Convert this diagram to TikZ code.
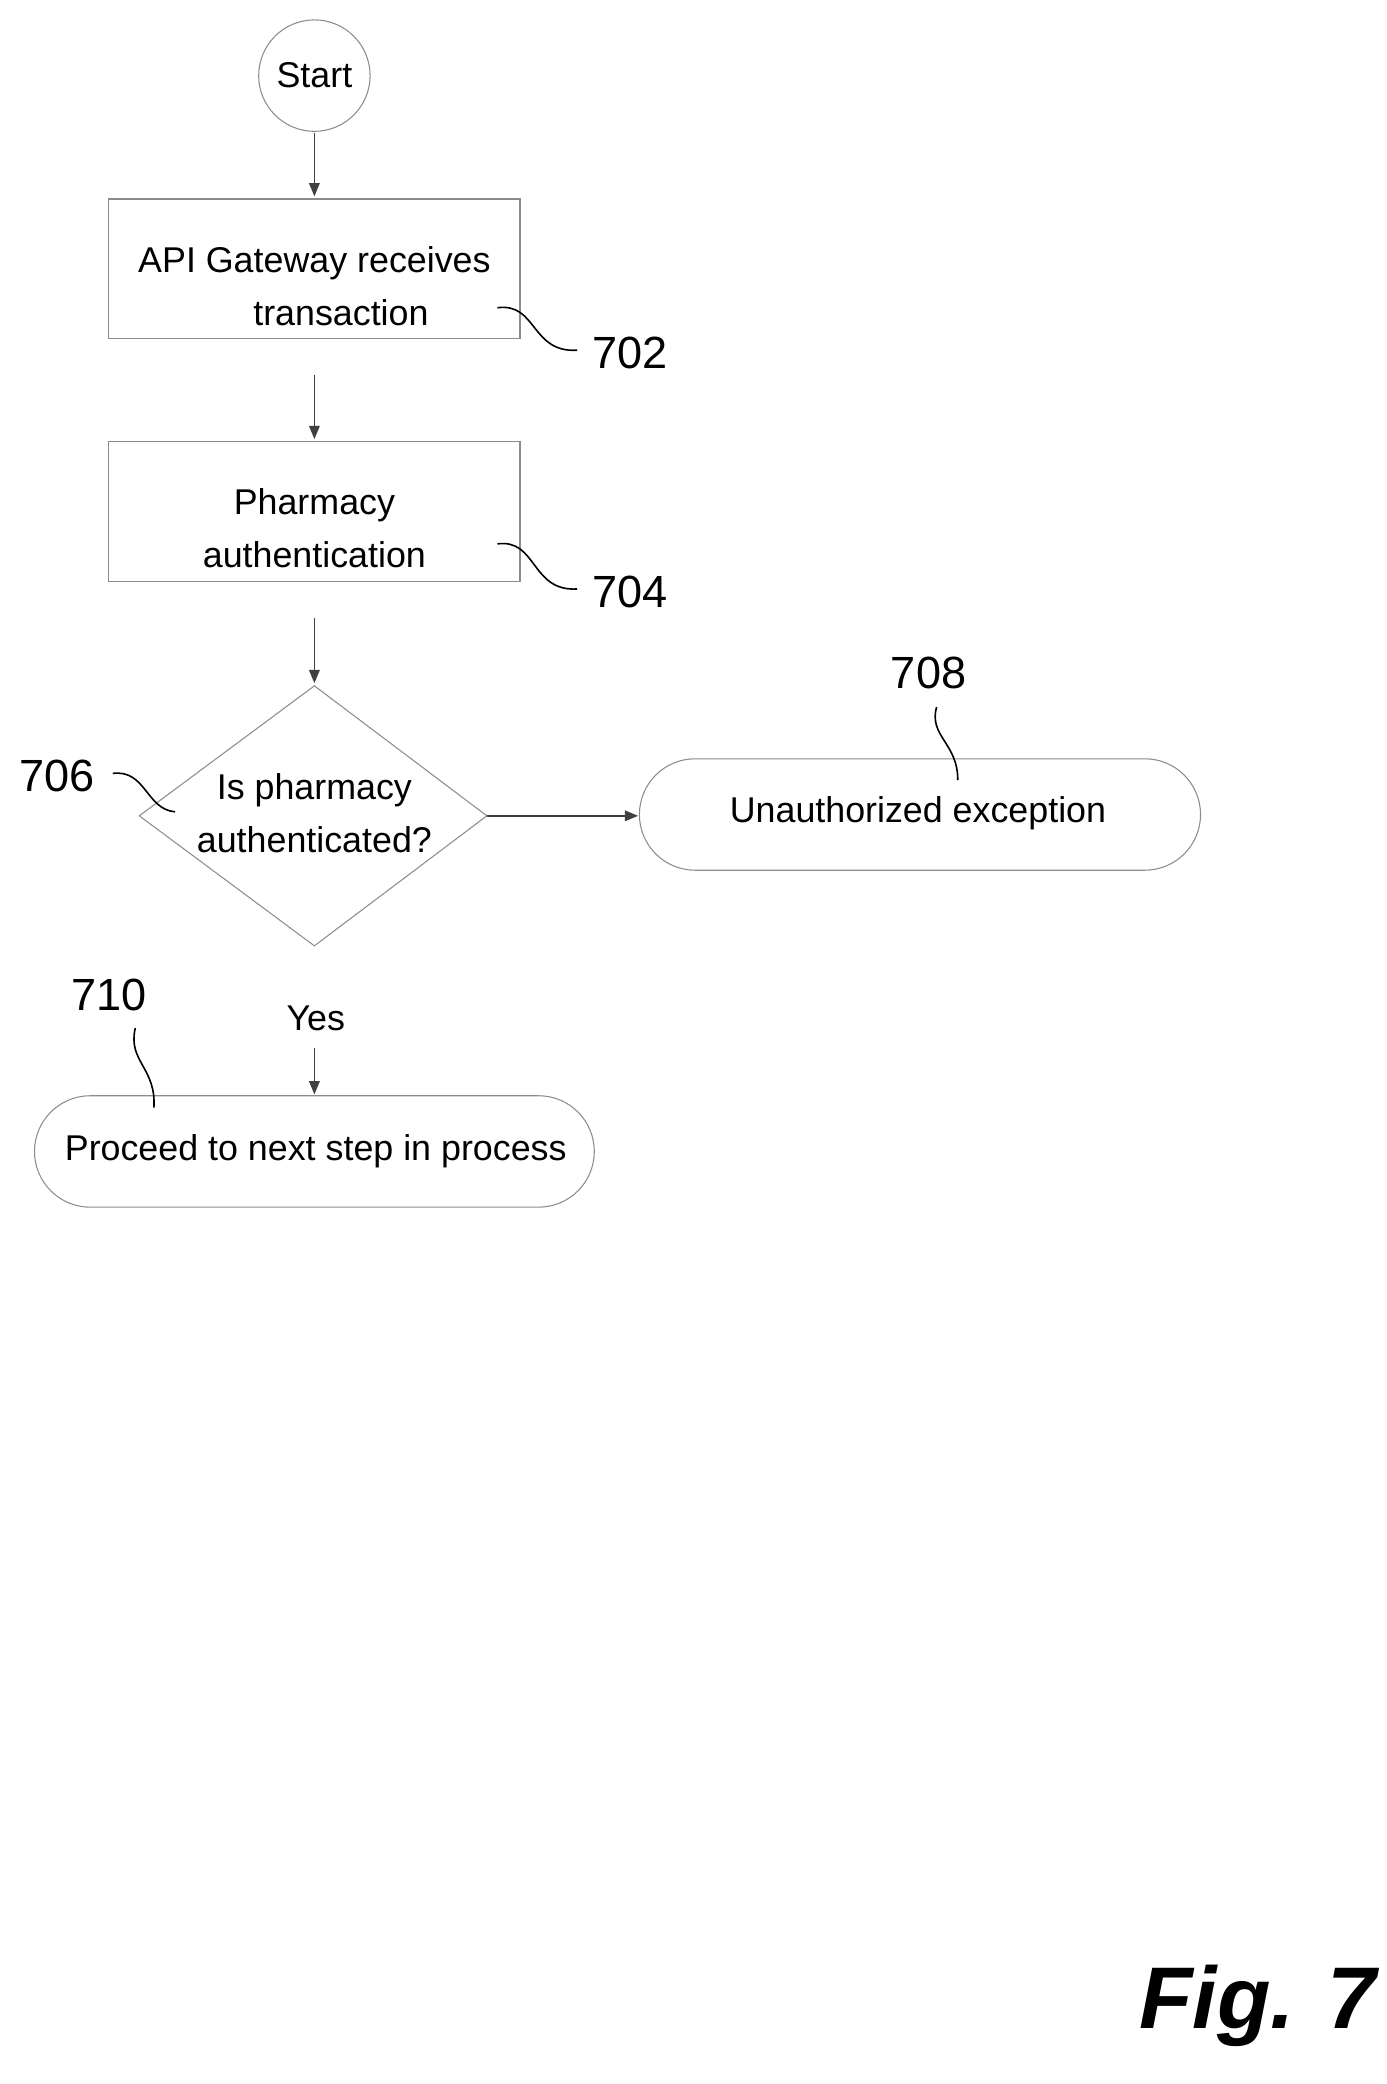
\documentclass[tikz,border=0pt]{standalone}
\usepackage{fontspec}
\setmainfont{Liberation Sans}
\usetikzlibrary{shapes.geometric,arrows.meta}
\begin{document}
\begin{tikzpicture}[x=1pt,y=-1pt,
  box/.style={draw=black!45,line width=0.8pt},
  txt/.style={font=\fontsize{27}{40}\selectfont,align=center,inner sep=0},
  num/.style={font=\fontsize{34}{40}\selectfont,inner sep=0},
  arr/.style={draw=black!75,line width=1.2pt,-{Triangle[length=10pt,width=8pt]}},
  sq/.style={draw=black,line width=1.2pt}]
\useasboundingbox (0,0) rectangle (1045,1571);
\node[box,circle,minimum size=84pt,inner sep=0] (start) at (237,57) {};
\node[txt] (starttxt) at (237,57) {Start};
\draw[box] (82,150) rectangle (392,255);
\node[txt] (b1) at (237,216) {API Gateway receives\\\hspace*{40pt}transaction};
\draw[box] (82,333) rectangle (392,438);
\node[txt] (b2) at (237,398) {Pharmacy\\authentication};
\draw[box] (237,517) -- (367,615) -- (237,713) -- (105,615) -- cycle;
\node[txt] (d) at (237,613) {Is pharmacy\\authenticated?};
\draw[box,rounded corners=42pt] (482,572) rectangle (905,656);
\node[txt] (u) at (692,613) {Unauthorized exception};
\draw[box,rounded corners=42pt] (26,826) rectangle (448,910);
\node[txt] (p) at (238,868) {Proceed to next step in process};
\coordinate (a1) at (237,100); \coordinate (a2) at (237,148);
\coordinate (a3) at (237,283); \coordinate (a4) at (237,331);
\coordinate (a5) at (237,466); \coordinate (a6) at (237,515);
\coordinate (a7) at (367,615); \coordinate (a8) at (481,615);
\coordinate (a9) at (237,790); \coordinate (a10) at (237,825);
\draw[arr] (a1) -- (a2); \draw[arr] (a3) -- (a4); \draw[arr] (a5) -- (a6);
\draw[arr] (a7) -- (a8); \draw[arr] (a9) -- (a10);
\node[txt] (yes) at (238,768) {Yes};
\node[num] (n702) at (475,266) {702};
\node[num] (n704) at (475,446) {704};
\node[num] (n706) at (43,585) {706};
\node[num] (n708) at (700,507) {708};
\node[num] (n710) at (82,750) {710};
\draw[sq] (375,232) .. controls (405,228) and (400,266) .. (435,264);
\draw[sq] (375,410) .. controls (405,406) and (400,446) .. (435,444);
\draw[sq] (85,583) .. controls (110,580) and (110,610) .. (132,612);
\draw[sq] (706,533) .. controls (700,555) and (722,560) .. (722,588);
\draw[sq] (102,775) .. controls (96,800) and (118,805) .. (116,835);
\node[font=\fontsize{66}{70}\selectfont\bfseries\itshape,inner sep=0] (fig) at (948,1512) {Fig. 7};
\end{tikzpicture}
\end{document}
